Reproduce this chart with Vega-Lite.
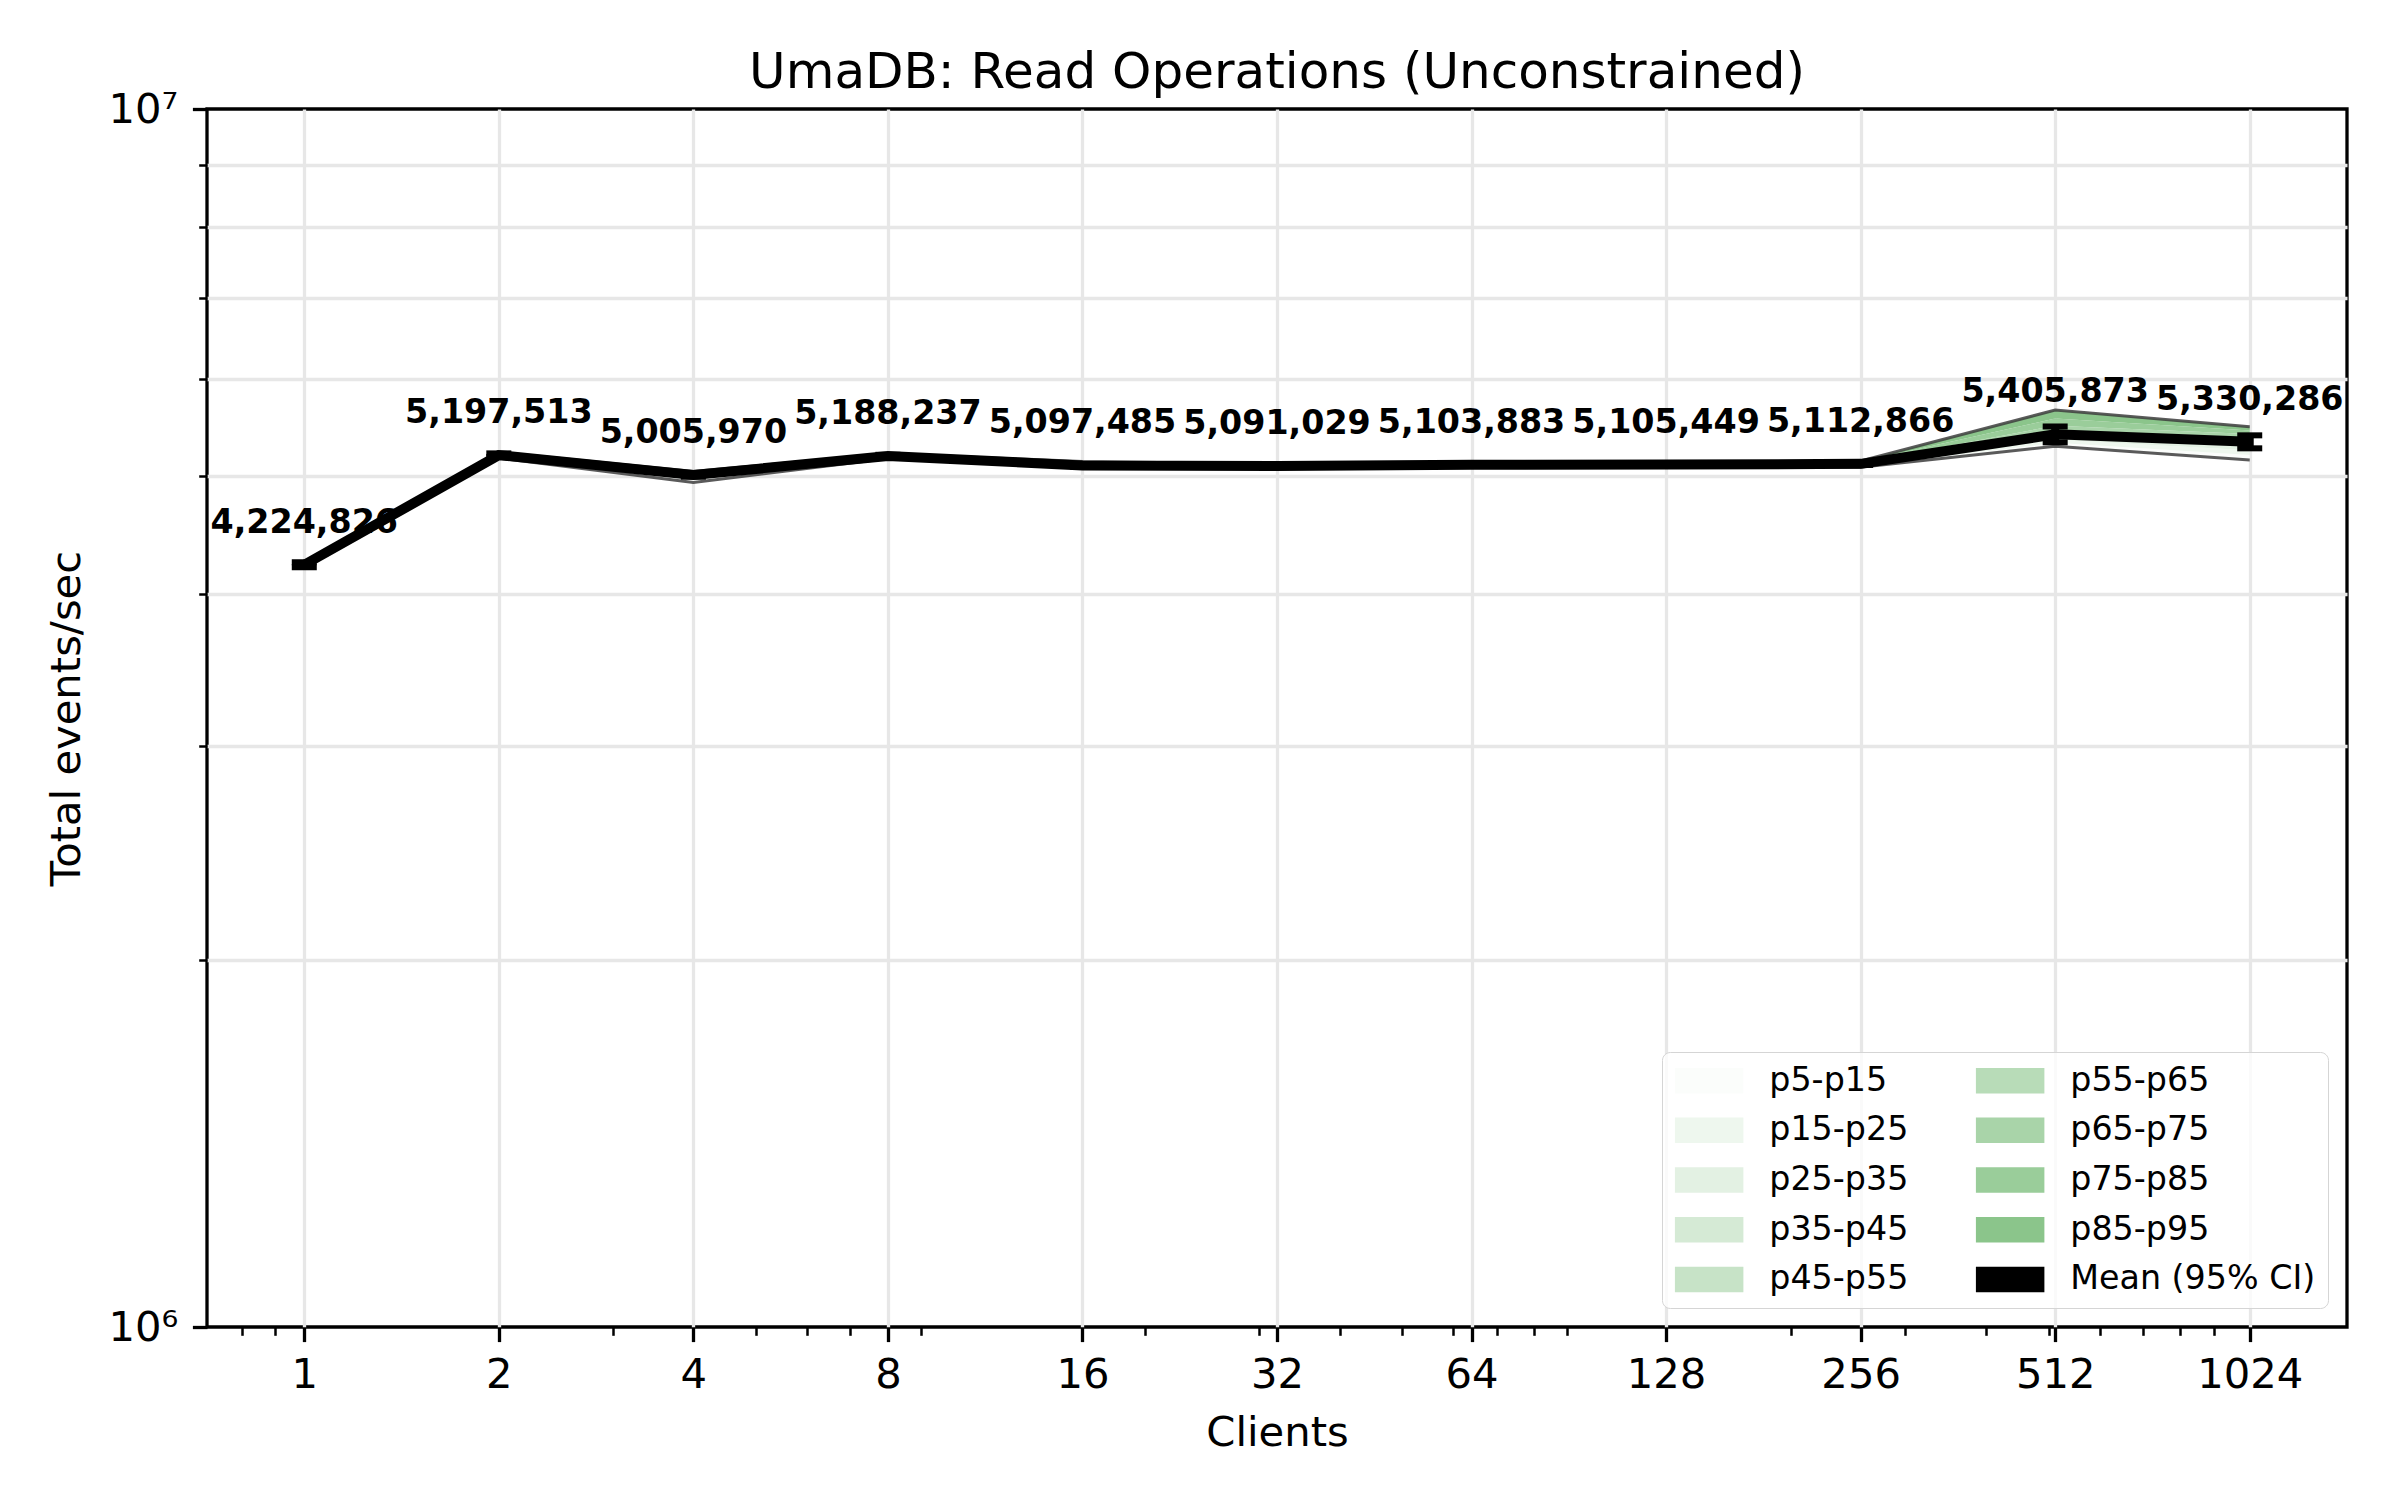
{
  "$schema": "https://vega.github.io/schema/vega-lite/v6.json",
  "width": 2140,
  "height": 1218,
  "autosize": {"type": "none"},
  "padding": {"left": 207, "top": 109, "right": 53, "bottom": 173},
  "background": "white",
  "title": {
    "text": "UmaDB: Read Operations (Unconstrained)",
    "fontSize": 50,
    "font": "DejaVu Sans",
    "fontWeight": "normal",
    "anchor": "middle",
    "baseline": "alphabetic",
    "offset": -49,
    "color": "black"
  },
  "data": {
    "values": [
      {"c": 1, "mean": 4224826, "lo": 4205000, "hi": 4245000, "p5": 4205000, "p15": 4210000, "p25": 4214000, "p35": 4218000, "p45": 4222000, "p55": 4226000, "p65": 4230000, "p75": 4234000, "p85": 4238000, "p95": 4243000},
      {"c": 2, "mean": 5197513, "lo": 5180000, "hi": 5215000, "p5": 5170000, "p15": 5178000, "p25": 5184000, "p35": 5190000, "p45": 5195000, "p55": 5200000, "p65": 5205000, "p75": 5211000, "p85": 5217000, "p95": 5225000},
      {"c": 4, "mean": 5005970, "lo": 4990000, "hi": 5022000, "p5": 4935000, "p15": 4960000, "p25": 4978000, "p35": 4992000, "p45": 5003000, "p55": 5012000, "p65": 5020000, "p75": 5027000, "p85": 5033000, "p95": 5040000},
      {"c": 8, "mean": 5188237, "lo": 5175000, "hi": 5201000, "p5": 5165000, "p15": 5172000, "p25": 5178000, "p35": 5184000, "p45": 5188000, "p55": 5192000, "p65": 5196000, "p75": 5201000, "p85": 5206000, "p95": 5212000},
      {"c": 16, "mean": 5097485, "lo": 5085000, "hi": 5110000, "p5": 5075000, "p15": 5082000, "p25": 5088000, "p35": 5093000, "p45": 5097000, "p55": 5102000, "p65": 5108000, "p75": 5115000, "p85": 5124000, "p95": 5135000},
      {"c": 32, "mean": 5091029, "lo": 5082000, "hi": 5100000, "p5": 5075000, "p15": 5080000, "p25": 5084000, "p35": 5088000, "p45": 5091000, "p55": 5094000, "p65": 5097000, "p75": 5101000, "p85": 5105000, "p95": 5110000},
      {"c": 64, "mean": 5103883, "lo": 5095000, "hi": 5113000, "p5": 5088000, "p15": 5093000, "p25": 5097000, "p35": 5101000, "p45": 5104000, "p55": 5107000, "p65": 5110000, "p75": 5114000, "p85": 5118000, "p95": 5123000},
      {"c": 128, "mean": 5105449, "lo": 5096000, "hi": 5115000, "p5": 5088000, "p15": 5094000, "p25": 5098000, "p35": 5102000, "p45": 5105000, "p55": 5108000, "p65": 5111000, "p75": 5115000, "p85": 5120000, "p95": 5126000},
      {"c": 256, "mean": 5112866, "lo": 5102000, "hi": 5124000, "p5": 5080000, "p15": 5090000, "p25": 5098000, "p35": 5105000, "p45": 5111000, "p55": 5116000, "p65": 5121000, "p75": 5127000, "p85": 5133000, "p95": 5140000},
      {"c": 512, "mean": 5405873, "lo": 5325000, "hi": 5487000, "p5": 5285000, "p15": 5320000, "p25": 5350000, "p35": 5375000, "p45": 5398000, "p55": 5420000, "p65": 5450000, "p75": 5495000, "p85": 5570000, "p95": 5660000},
      {"c": 1024, "mean": 5330286, "lo": 5265000, "hi": 5396000, "p5": 5150000, "p15": 5200000, "p25": 5245000, "p35": 5285000, "p45": 5318000, "p55": 5345000, "p65": 5375000, "p75": 5410000, "p85": 5445000, "p95": 5485000}
    ]
  },
  "resolve": {"axis": {"x": "independent", "y": "independent"}},
  "layer": [
    {
      "mark": {"type": "area", "opacity": 1},
      "encoding": {
        "x": {
          "field": "c", "type": "quantitative",
          "scale": {"type": "log", "base": 2, "domain": [0.7071, 1448.15], "nice": false},
          "axis": {
            "orient": "bottom",
            "values": [1, 2, 4, 8, 16, 32, 64, 128, 256, 512, 1024],
            "format": "d",
            "labelFontSize": 41.7,
            "labelPadding": 13,
            "tickSize": 14.6,
            "grid": true,
            "title": "Clients",
            "titleFontSize": 41.7,
            "titlePadding": 16
          }
        },
        "y": {
          "field": "p5", "type": "quantitative",
          "scale": {"type": "log", "domain": [1000000, 10000000], "nice": false},
          "axis": {
            "orient": "left",
            "values": [1000000, 10000000],
            "labelExpr": "datum.value > 5000000 ? '10⁷' : '10⁶'",
            "labelFontSize": 41.7,
            "labelPadding": 14.6,
            "tickSize": 14.6,
            "grid": false,
            "title": "Total events/sec",
            "titleFontSize": 41.7,
            "titlePadding": 20
          }
        },
        "y2": {"field": "p15"},
        "color": {
          "datum": "p5-p15", "type": "nominal",
          "scale": {
            "domain": ["p5-p15", "p15-p25", "p25-p35", "p35-p45", "p45-p55", "p55-p65", "p65-p75", "p75-p85", "p85-p95", "Mean (95% CI)"],
            "range": ["#fbfdfb", "#eef7ee", "#e3f1e3", "#d5ead5", "#c7e3c7", "#b8dcb8", "#a9d4a9", "#9acd9a", "#8bc58b", "#000000"]
          },
          "legend": {
            "title": null,
            "orient": "bottom-right",
            "offset": 19,
            "columns": 2,
            "columnPadding": 64,
            "rowPadding": 15.7,
            "padding": 12,
            "symbolSize": 900,
            "symbolType": "M-2.233,-0.8H2.233V0.8H-2.233Z",
            "symbolOffset": 18.5,
            "labelOffset": 43.5,
            "labelFontSize": 33.3,
            "labelFont": "DejaVu Sans",
            "labelColor": "black",
            "labelLimit": 500,
            "fillColor": "rgba(255,255,255,0.8)",
            "strokeColor": "#d5d5d5",
            "cornerRadius": 8,
            "encode": {
              "legend": {"strokeWidth": {"value": 3.3}},
              "symbols": {
                "shape": {
                  "condition": {"test": "datum.label === 'Mean (95% CI)'", "value": "M-2.53,0H2.53M0,-1.3V1.3M-0.83,-1.3H0.83M-0.83,1.3H0.83"},
                  "value": "M-2.233,-0.8H2.233V0.8H-2.233Z"
                },
                "stroke": {"value": "black"},
                "strokeWidth": {
                  "condition": {"test": "datum.label === 'Mean (95% CI)'", "value": 8},
                  "value": 0
                },
                "opacity": {"value": 1}
              }
            }
          }
        }
      }
    },
    {
      "mark": {"type": "area", "opacity": 1},
      "encoding": {
        "x": {"field": "c", "type": "quantitative", "axis": null},
        "y": {"field": "p15", "type": "quantitative", "axis": null},
        "y2": {"field": "p25"},
        "color": {"datum": "p15-p25", "type": "nominal"}
      }
    },
    {
      "mark": {"type": "area", "opacity": 1},
      "encoding": {
        "x": {"field": "c", "type": "quantitative", "axis": null},
        "y": {"field": "p25", "type": "quantitative", "axis": null},
        "y2": {"field": "p35"},
        "color": {"datum": "p25-p35", "type": "nominal"}
      }
    },
    {
      "mark": {"type": "area", "opacity": 1},
      "encoding": {
        "x": {"field": "c", "type": "quantitative", "axis": null},
        "y": {"field": "p35", "type": "quantitative", "axis": null},
        "y2": {"field": "p45"},
        "color": {"datum": "p35-p45", "type": "nominal"}
      }
    },
    {
      "mark": {"type": "area", "opacity": 1},
      "encoding": {
        "x": {"field": "c", "type": "quantitative", "axis": null},
        "y": {"field": "p45", "type": "quantitative", "axis": null},
        "y2": {"field": "p55"},
        "color": {"datum": "p45-p55", "type": "nominal"}
      }
    },
    {
      "mark": {"type": "area", "opacity": 1},
      "encoding": {
        "x": {"field": "c", "type": "quantitative", "axis": null},
        "y": {"field": "p55", "type": "quantitative", "axis": null},
        "y2": {"field": "p65"},
        "color": {"datum": "p55-p65", "type": "nominal"}
      }
    },
    {
      "mark": {"type": "area", "opacity": 1},
      "encoding": {
        "x": {"field": "c", "type": "quantitative", "axis": null},
        "y": {"field": "p65", "type": "quantitative", "axis": null},
        "y2": {"field": "p75"},
        "color": {"datum": "p65-p75", "type": "nominal"}
      }
    },
    {
      "mark": {"type": "area", "opacity": 1},
      "encoding": {
        "x": {"field": "c", "type": "quantitative", "axis": null},
        "y": {"field": "p75", "type": "quantitative", "axis": null},
        "y2": {"field": "p85"},
        "color": {"datum": "p75-p85", "type": "nominal"}
      }
    },
    {
      "mark": {"type": "area", "opacity": 1},
      "encoding": {
        "x": {"field": "c", "type": "quantitative", "axis": null},
        "y": {"field": "p85", "type": "quantitative", "axis": null},
        "y2": {"field": "p95"},
        "color": {"datum": "p85-p95", "type": "nominal"}
      }
    },
    {
      "mark": {"type": "line", "color": "#3d3d3d", "strokeWidth": 3, "opacity": 0.85},
      "encoding": {
        "x": {"field": "c", "type": "quantitative", "axis": null},
        "y": {"field": "p5", "type": "quantitative", "axis": null}
      }
    },
    {
      "mark": {"type": "line", "color": "#3d3d3d", "strokeWidth": 3, "opacity": 0.85},
      "encoding": {
        "x": {"field": "c", "type": "quantitative", "axis": null},
        "y": {"field": "p95", "type": "quantitative", "axis": null}
      }
    },
    {
      "mark": {"type": "line", "strokeWidth": 10, "opacity": 1},
      "encoding": {
        "x": {"field": "c", "type": "quantitative", "axis": null},
        "y": {"field": "mean", "type": "quantitative", "axis": null},
        "color": {
          "datum": "Mean (95% CI)", "type": "nominal",
          "legend": {
            "title": null,
            "orient": "bottom-right",
            "offset": 19,
            "columns": 2,
            "columnPadding": 64,
            "rowPadding": 15.7,
            "padding": 12,
            "symbolSize": 900,
            "symbolType": "M-2.233,-0.8H2.233V0.8H-2.233Z",
            "symbolOffset": 18.5,
            "labelOffset": 43.5,
            "labelFontSize": 33.3,
            "labelFont": "DejaVu Sans",
            "labelColor": "black",
            "labelLimit": 500,
            "fillColor": "rgba(255,255,255,0.8)",
            "strokeColor": "#d5d5d5",
            "cornerRadius": 8,
            "encode": {
              "legend": {"strokeWidth": {"value": 3.3}},
              "symbols": {
                "shape": {
                  "condition": {"test": "datum.label === 'Mean (95% CI)'", "value": "M-2.53,0H2.53M0,-1.3V1.3M-0.83,-1.3H0.83M-0.83,1.3H0.83"},
                  "value": "M-2.233,-0.8H2.233V0.8H-2.233Z"
                },
                "stroke": {"value": "black"},
                "strokeWidth": {
                  "condition": {"test": "datum.label === 'Mean (95% CI)'", "value": 8},
                  "value": 0
                },
                "opacity": {"value": 1}
              }
            }
          }
        }
      }
    },
    {
      "mark": {"type": "rule", "color": "black", "strokeWidth": 8},
      "encoding": {
        "x": {"field": "c", "type": "quantitative", "axis": null},
        "y": {"field": "lo", "type": "quantitative", "axis": null},
        "y2": {"field": "hi"}
      }
    },
    {
      "mark": {"type": "tick", "orient": "horizontal", "color": "black", "size": 25, "thickness": 6, "opacity": 1},
      "encoding": {
        "x": {"field": "c", "type": "quantitative", "axis": null},
        "y": {"field": "hi", "type": "quantitative", "axis": null}
      }
    },
    {
      "mark": {"type": "tick", "orient": "horizontal", "color": "black", "size": 25, "thickness": 6, "opacity": 1},
      "encoding": {
        "x": {"field": "c", "type": "quantitative", "axis": null},
        "y": {"field": "lo", "type": "quantitative", "axis": null}
      }
    },
    {
      "mark": {"type": "text", "font": "DejaVu Sans", "fontWeight": "bold", "fontSize": 33.3, "baseline": "alphabetic", "align": "center", "dy": -32, "color": "black"},
      "encoding": {
        "x": {
          "field": "c", "type": "quantitative",
          "axis": {
            "orient": "bottom",
            "values": [0.8, 0.9, 3, 5, 6, 7, 9, 20, 30, 40, 50, 60, 70, 80, 90, 200, 300, 400, 500, 600, 700, 800, 900],
            "labels": false,
            "tickSize": 8.3,
            "tickWidth": 2.5,
            "grid": false,
            "title": null
          }
        },
        "y": {
          "field": "mean", "type": "quantitative",
          "axis": {
            "orient": "left",
            "values": [2000000, 3000000, 4000000, 5000000, 6000000, 7000000, 8000000, 9000000],
            "labels": false,
            "tickSize": 8.3,
            "tickWidth": 2.5,
            "grid": true,
            "title": null
          }
        },
        "text": {"field": "mean", "type": "quantitative", "format": ","}
      }
    }
  ],
  "config": {
    "font": "DejaVu Sans",
    "view": {"stroke": "black", "strokeWidth": 3.3},
    "axis": {
      "domain": false,
      "tickColor": "black",
      "tickWidth": 3.3,
      "labelColor": "black",
      "titleColor": "black",
      "labelFont": "DejaVu Sans",
      "titleFont": "DejaVu Sans",
      "titleFontWeight": "normal",
      "gridColor": "#e7e7e7",
      "gridWidth": 3.3
    }
  }
}
